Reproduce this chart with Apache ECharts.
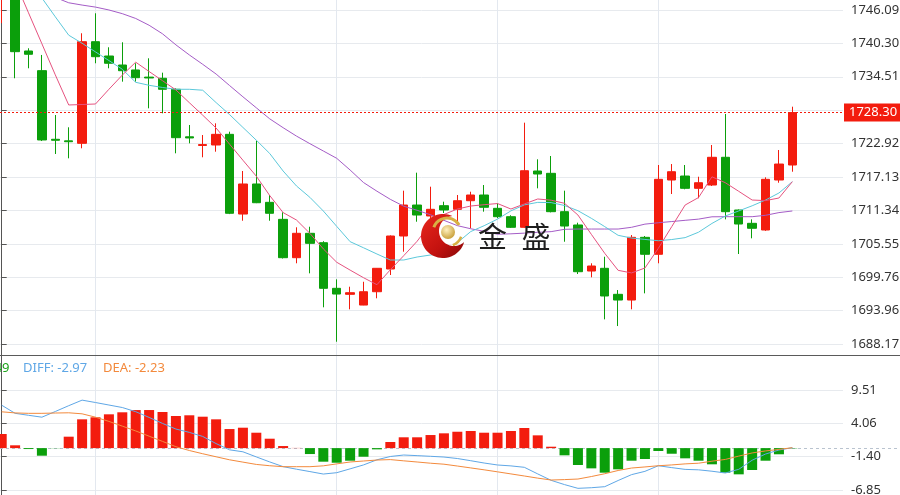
<!DOCTYPE html>
<html><head><meta charset="utf-8">
<script src="https://cdn.jsdelivr.net/npm/echarts@6/dist/echarts.min.js"></script>
<style>html,body{margin:0;padding:0;background:#fff}#c{width:900px;height:495px}</style>
</head><body><div id="c"></div>
<script>
// ---- data ----
const opens  = [1748.60,1749.50,1738.98,1735.57,1723.67,1723.40,1722.97,1740.59,1738.11,1736.55,1735.69,1734.45,1734.25,1732.34,1724.10,1722.60,1722.68,1724.53,1710.71,1715.92,1712.74,1709.79,1703.14,1707.37,1705.74,1697.83,1696.79,1694.93,1697.24,1701.18,1706.90,1712.27,1710.37,1712.16,1711.53,1713.02,1714.01,1711.70,1710.25,1708.41,1718.17,1717.77,1711.12,1708.81,1700.83,1701.30,1696.79,1695.80,1706.67,1703.73,1716.61,1717.30,1715.17,1715.74,1720.55,1711.41,1709.10,1707.94,1716.61,1719.21];
const closes = [1750.50,1738.86,1738.41,1723.55,1723.50,1723.25,1740.59,1737.99,1736.85,1735.56,1734.35,1734.30,1732.34,1723.95,1723.90,1722.75,1724.53,1710.84,1715.92,1712.67,1710.84,1703.14,1707.37,1705.63,1697.83,1696.84,1697.07,1697.24,1701.30,1706.90,1712.27,1710.54,1711.53,1711.41,1713.02,1714.01,1711.88,1710.25,1708.41,1718.22,1717.65,1711.12,1708.63,1700.71,1701.70,1696.50,1695.80,1706.67,1703.73,1716.73,1718.05,1715.17,1716.14,1720.55,1711.12,1708.98,1708.24,1716.73,1719.38,1728.30];
const lows   = [1743.80,1734.25,1735.98,1723.37,1721.12,1720.37,1722.11,1736.85,1735.98,1733.66,1733.66,1729.04,1728.18,1721.24,1722.97,1720.55,1721.52,1710.70,1709.55,1712.60,1709.55,1703.00,1702.17,1700.43,1694.54,1688.57,1694.19,1694.90,1696.10,1700.14,1704.18,1709.38,1709.70,1710.89,1708.81,1708.24,1711.12,1710.00,1708.30,1708.30,1715.17,1711.00,1705.91,1700.31,1699.74,1692.45,1691.29,1694.19,1696.96,1702.17,1714.18,1715.00,1713.44,1715.57,1709.79,1703.78,1706.50,1707.80,1716.14,1718.05];
const highs  = [1751.50,1750.20,1739.45,1738.29,1727.88,1725.75,1742.05,1745.52,1739.62,1740.49,1736.85,1737.71,1735.22,1732.50,1726.15,1724.41,1726.44,1724.99,1718.17,1723.42,1714.01,1711.01,1708.41,1708.51,1706.00,1699.39,1698.11,1698.97,1701.35,1707.00,1714.76,1717.88,1715.45,1712.85,1714.01,1714.58,1715.74,1712.57,1710.50,1726.55,1720.20,1720.77,1714.76,1709.21,1702.17,1703.31,1697.53,1707.07,1706.90,1719.21,1719.38,1719.21,1717.18,1722.68,1728.06,1711.50,1709.79,1717.08,1721.81,1729.32];
const ma5  = [1756.32,1751.02,1745.60,1740.23,1734.84,1729.62,1729.70,1729.79,1732.34,1734.80,1737.04,1735.42,1733.83,1732.22,1730.02,1727.85,1725.62,1722.84,1720.04,1717.27,1713.92,1710.96,1709.67,1707.36,1704.67,1702.35,1700.99,1699.67,1698.46,1701.04,1703.49,1705.99,1709.09,1710.63,1711.58,1712.10,1712.33,1712.53,1711.58,1712.46,1713.32,1713.11,1712.57,1710.54,1707.19,1703.90,1700.95,1700.50,1701.35,1704.77,1708.53,1712.27,1713.57,1717.17,1716.14,1714.65,1713.14,1713.04,1713.49,1716.32];
const ma10 = [1757.88,1754.70,1751.41,1748.17,1744.91,1741.72,1740.32,1738.82,1737.32,1735.81,1733.55,1733.03,1732.65,1732.34,1732.34,1732.18,1730.03,1727.96,1725.73,1723.51,1721.21,1718.17,1715.57,1713.60,1711.24,1708.57,1705.92,1704.86,1703.78,1702.74,1702.74,1703.26,1703.61,1703.87,1705.74,1707.67,1708.69,1709.83,1711.26,1712.30,1712.73,1712.69,1712.19,1711.29,1709.97,1708.53,1707.02,1706.55,1706.31,1706.08,1706.29,1706.62,1707.56,1709.08,1710.37,1711.25,1712.14,1713.14,1714.36,1716.32];
const ma20 = [1751.99,1751.06,1750.13,1749.19,1748.27,1747.34,1746.94,1746.59,1746.09,1745.45,1744.62,1743.44,1741.96,1740.04,1738.30,1736.67,1734.98,1733.00,1731.04,1729.13,1727.22,1725.68,1724.22,1722.91,1721.64,1720.37,1718.34,1716.17,1714.67,1713.26,1712.07,1711.36,1710.58,1709.62,1708.70,1708.16,1707.71,1707.21,1707.28,1707.40,1707.54,1707.66,1708.06,1708.11,1708.11,1708.11,1708.11,1708.41,1708.96,1709.20,1709.41,1709.62,1709.83,1710.23,1710.25,1710.25,1710.25,1710.49,1710.96,1711.24];
const macdHist = [2.31,0.46,-0.15,-1.24,-0.03,1.87,4.71,5.04,5.53,5.86,6.23,6.23,5.91,5.25,5.37,5.14,4.71,3.12,3.34,2.52,1.54,0.34,0.03,-0.97,-2.22,-2.39,-2.06,-1.41,-0.20,1.00,1.77,1.77,2.14,2.42,2.68,2.80,2.52,2.52,2.80,3.29,2.09,0.23,-1.18,-2.76,-3.31,-4.02,-3.47,-2.06,-1.78,-0.47,-0.92,-1.67,-2.06,-2.65,-4.02,-4.29,-3.58,-2.06,-1.01,-0.05];
const diff = [7.02,5.69,5.37,5.06,5.99,6.94,7.85,7.46,7.05,6.64,5.96,5.02,4.04,3.12,2.58,1.91,0.74,-0.28,-0.60,-1.44,-2.26,-3.03,-3.45,-3.84,-4.24,-4.02,-3.39,-2.75,-1.91,-1.37,-1.13,-1.23,-1.34,-1.46,-1.70,-2.06,-2.44,-2.76,-2.91,-3.14,-4.22,-5.27,-5.97,-6.58,-6.48,-6.31,-5.30,-4.34,-3.80,-2.88,-3.19,-3.48,-3.55,-3.78,-4.07,-3.47,-1.98,-0.97,-0.31,0.07];
const dea  = [5.94,5.76,5.69,5.69,5.74,5.78,5.61,5.06,4.37,3.60,2.81,1.95,1.10,0.23,-0.39,-0.92,-1.42,-1.91,-2.29,-2.67,-2.88,-3.04,-3.04,-3.04,-2.90,-2.58,-2.27,-2.11,-1.95,-1.88,-2.08,-2.27,-2.47,-2.63,-2.93,-3.24,-3.55,-3.88,-4.22,-4.56,-4.91,-5.22,-5.15,-5.06,-4.65,-4.19,-3.66,-3.26,-3.08,-2.88,-2.75,-2.58,-2.47,-2.14,-1.85,-1.31,-0.79,-0.46,-0.21,0.07];
const priceTicks  = [1746.09,1740.30,1734.51,1728.72,1722.92,1717.13,1711.34,1705.55,1699.76,1693.96,1688.17];
const priceLabels = [1746.09,1740.30,1734.51,1722.92,1717.13,1711.34,1705.55,1699.76,1693.96,1688.17];
const macdTicks   = [9.51,4.06,-1.40,-6.85];
const sessionBreaks = [7,25,37,49];
const lastPrice = 1728.30;
const legendTexts = ['MACD: -1.49','DIFF: -2.97','DEA: -2.23'];
const logoText = ['金','盛'];

// ---- styling ----
const RED='#f31c0e', GREEN='#0b9f0b', GRID='#e7eaee', AXIS='#555';
const C_MA5='#e5527f', C_MA10='#5cc8da', C_MA20='#a45cc6', C_DIFF='#5fa7e6', C_DEA='#f38a3d';
const FONT='"Noto Sans", "DejaVu Sans", sans-serif';

const candleData = opens.map((o,i)=>[i,o,closes[i],lows[i],highs[i]]);
const pair = arr => arr.map((v,i)=>[i,v]);

function yAxisCfg(grid,min,max,ticks,labels){
  return {type:'value', gridIndex:grid, position:'right', min:min, max:max,
    axisLine:{show:true, lineStyle:{color:AXIS,width:1}},
    axisTick:{show:true, length:5, customValues:ticks, lineStyle:{color:AXIS}},
    axisLabel:{show:true, customValues:labels, margin:8, color:'#333', fontSize:13, fontFamily:FONT,
      formatter:v=>Number(v).toFixed(2)},
    splitLine:{show:true, lineStyle:{color:GRID,width:1}}};
}
const vLines = {silent:true, z:1, symbol:['none','none'], label:{show:false},
  lineStyle:{color:'#e3e8ef', type:'solid', width:1}, emphasis:{disabled:true},
  data: sessionBreaks.map(v=>({xAxis:v}))};

const chart = echarts.init(document.getElementById('c'));
const option = {
  animation:false,
  backgroundColor:'#fff',
  grid:[
    {left:0, top:0, width:843, height:355, containLabel:false, outerBoundsMode:'none'},
    {left:0, top:356, width:843, height:139, containLabel:false, outerBoundsMode:'none'}
  ],
  xAxis:[
    {type:'value', gridIndex:0, min:-0.127, max:62.78, show:false},
    {type:'value', gridIndex:1, min:-0.127, max:62.78, show:false}
  ],
  yAxis:[
    yAxisCfg(0,1686.27,1747.82,priceTicks,priceLabels),
    yAxisCfg(1,-7.67,15.07,macdTicks,macdTicks)
  ],
  series:[
    {type:'candlestick', xAxisIndex:0, yAxisIndex:0, data:candleData, encode:{x:0,y:[1,2,3,4]},
      barWidth:9, clip:true,
      itemStyle:{color:RED,color0:GREEN,borderColor:RED,borderColor0:GREEN,borderWidth:1},
      markLine:vLines},
    {type:'line', xAxisIndex:0, yAxisIndex:0, data:pair(ma20), symbol:'none', clip:true,
      lineStyle:{color:C_MA20,width:1}},
    {type:'line', xAxisIndex:0, yAxisIndex:0, data:pair(ma10), symbol:'none', clip:true,
      lineStyle:{color:C_MA10,width:1}},
    {type:'line', xAxisIndex:0, yAxisIndex:0, data:pair(ma5), symbol:'none', clip:true,
      lineStyle:{color:C_MA5,width:1},
      markLine:{silent:true, symbol:['none','none'],
        lineStyle:{color:RED, type:[2,2], width:1},
        label:{show:true, position:'end', distance:1, formatter:()=>lastPrice.toFixed(2),
          color:'#fff', backgroundColor:RED, padding:[3,3,2,5], fontSize:13, fontFamily:FONT},
        data:[{yAxis:lastPrice}]}},
    {type:'bar', xAxisIndex:1, yAxisIndex:1, data:pair(macdHist), barWidth:10,
      itemStyle:{color:p=>p.value[1]>=0?RED:GREEN}, markLine:vLines},
    {type:'line', xAxisIndex:1, yAxisIndex:1, data:pair(diff), symbol:'none', lineStyle:{color:C_DIFF,width:1}},
    {type:'line', xAxisIndex:1, yAxisIndex:1, data:pair(dea), symbol:'none', lineStyle:{color:C_DEA,width:1}}
  ]
};
chart.setOption(option);

// ---- decorations (watermark, legend, panel divider) ----
const y0 = chart.convertToPixel({yAxisIndex:1}, 0);
function crescent(){
  const O=[443,236], R=22, I=[454,231], r=15, pts=[];
  const a1=-64.7*Math.PI/180, a2=(16-360)*Math.PI/180;
  for(let t=0;t<=48;t++){const a=a1+(a2-a1)*t/48; pts.push([O[0]+R*Math.cos(a),O[1]+R*Math.sin(a)]);}
  const b1=47.4*Math.PI/180, b2=264*Math.PI/180;
  for(let t=0;t<=48;t++){const b=b1+(b2-b1)*t/48; pts.push([I[0]+r*Math.cos(b),I[1]+r*Math.sin(b)]);}
  return pts;
}
const gold='#d8b043';
chart.setOption({graphic:[
  {type:'line', z:1, shape:{x1:0,y1:Math.round(y0)+0.5,x2:898,y2:Math.round(y0)+0.5}, style:{stroke:'#b9c3cf', lineWidth:1, lineDash:[3,3]}},
  {type:'line', z:100, shape:{x1:0,y1:355.5,x2:900,y2:355.5}, style:{stroke:'#5a5a5a', lineWidth:1}},
  {type:'text', z:100, x:9.5, y:368, style:{text:legendTexts[0], fill:'#1aa31a', font:'13px '+FONT, align:'right', verticalAlign:'middle'}},
  {type:'text', z:100, x:23, y:368, style:{text:legendTexts[1], fill:C_DIFF, font:'13px '+FONT, align:'left', verticalAlign:'middle'}},
  {type:'text', z:100, x:103, y:368, style:{text:legendTexts[2], fill:C_DEA, font:'13px '+FONT, align:'left', verticalAlign:'middle'}},
  {type:'polygon', z:100, shape:{points:crescent()}, style:{fill:{type:'linear',x:0,y:0,x2:1,y2:1,
     colorStops:[{offset:0,color:'#e8261c'},{offset:0.6,color:'#c3120f'},{offset:1,color:'#850808'}]}}},
  {type:'arc', z:101, shape:{cx:447,cy:232,r:14,startAngle:200*Math.PI/180,endAngle:330*Math.PI/180,clockwise:true},
     style:{stroke:gold, lineWidth:3, fill:null}},
  {type:'arc', z:101, shape:{cx:448,cy:232,r:14,startAngle:20*Math.PI/180,endAngle:70*Math.PI/180,clockwise:true},
     style:{stroke:gold, lineWidth:2.5, fill:null}},
  {type:'circle', z:101, shape:{cx:448,cy:232,r:7}, style:{fill:{type:'radial',x:0.4,y:0.35,r:0.75,
     colorStops:[{offset:0,color:'#fff1c0'},{offset:1,color:'#c2962a'}]}}},
  {type:'text', z:100, x:492.5, y:237, style:{text:logoText[0], fill:'#1e1e1e', font:'29px "Noto Sans CJK SC"', align:'center', verticalAlign:'middle'}},
  {type:'text', z:100, x:536, y:237, style:{text:logoText[1], fill:'#1e1e1e', font:'29px "Noto Sans CJK SC"', align:'center', verticalAlign:'middle'}}
]});
</script>
</body></html>
